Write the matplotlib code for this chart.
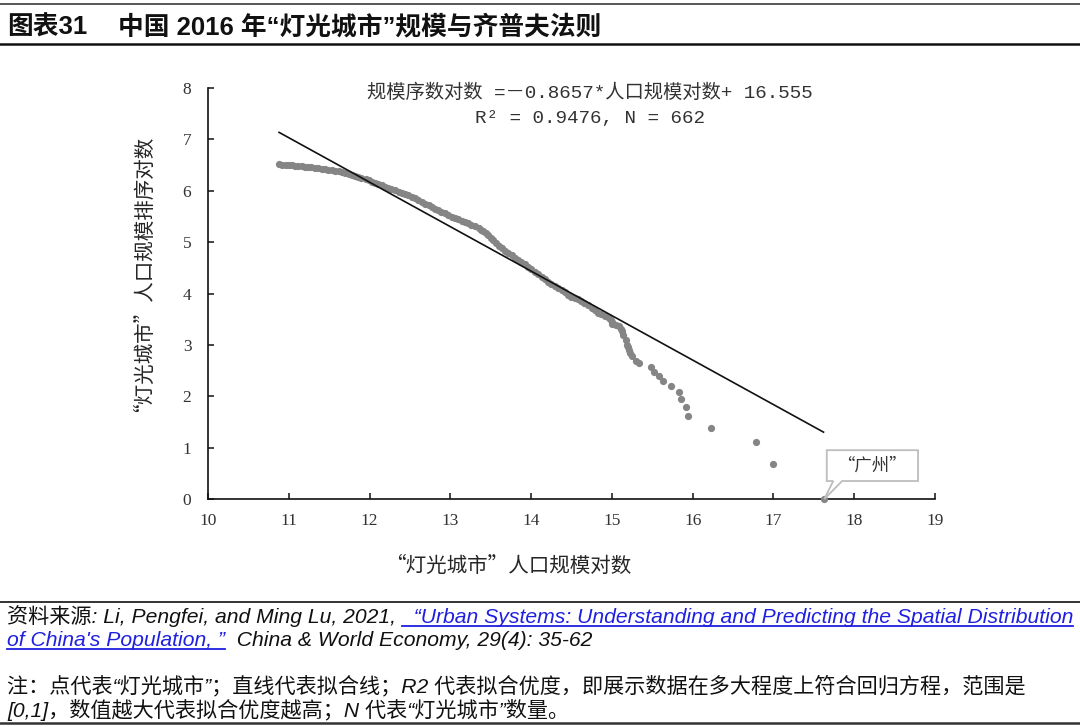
import matplotlib
matplotlib.use("Agg")
import matplotlib.pyplot as plt
from matplotlib.lines import Line2D
from matplotlib.patches import Polygon

W, H = 1080, 727
CJK = "Noto Sans CJK SC"

# log city size vs log rank
x_pts = [10.88, 10.92, 10.96, 11.00, 11.04, 11.08, 11.12, 11.16, 11.20, 11.24,
         11.28, 11.32, 11.36, 11.41, 11.45, 11.49, 11.53, 11.57, 11.62, 11.66,
         11.70, 11.74, 11.78, 11.82, 11.86, 11.90, 11.95, 11.99, 12.03, 12.07,
         12.11, 12.15, 12.19, 12.23, 12.27, 12.31, 12.36, 12.40, 12.44, 12.48,
         12.52, 12.56, 12.60, 12.65, 12.69, 12.73, 12.77, 12.81, 12.85, 12.89,
         12.93, 12.97, 13.02, 13.06, 13.10, 13.14, 13.18, 13.22, 13.26, 13.30,
         13.35, 13.38, 13.41, 13.44, 13.47, 13.50, 13.53, 13.56, 13.60, 13.64,
         13.68, 13.72, 13.76, 13.80, 13.84, 13.88, 13.92, 13.96, 14.00, 14.05,
         14.09, 14.13, 14.17, 14.21, 14.25, 14.29, 14.33, 14.38, 14.42, 14.46,
         14.50, 14.54, 14.58, 14.62, 14.66, 14.70, 14.75, 14.79, 14.83, 14.87,
         14.92, 14.96, 14.99, 15.00, 15.00, 15.05, 15.09, 15.11, 15.12, 15.14,
         15.17, 15.19, 15.20, 15.21, 15.23, 15.25, 15.30, 15.33, 15.48, 15.52,
         15.58, 15.63, 15.73, 15.83, 15.85, 15.92, 15.94, 16.23, 16.79, 16.99,
         17.63]
y_pts = [6.52, 6.51, 6.51, 6.50, 6.50, 6.49, 6.49, 6.48, 6.47, 6.46,
         6.46, 6.45, 6.44, 6.43, 6.42, 6.41, 6.40, 6.39, 6.38, 6.36,
         6.34, 6.32, 6.30, 6.28, 6.26, 6.24, 6.22, 6.20, 6.18, 6.16,
         6.14, 6.11, 6.08, 6.05, 6.03, 6.01, 5.98, 5.96, 5.93, 5.91,
         5.88, 5.85, 5.82, 5.78, 5.75, 5.72, 5.69, 5.65, 5.62, 5.59,
         5.56, 5.53, 5.49, 5.47, 5.45, 5.42, 5.40, 5.37, 5.34, 5.31,
         5.27, 5.24, 5.21, 5.18, 5.14, 5.09, 5.04, 4.99, 4.93, 4.88,
         4.83, 4.78, 4.74, 4.70, 4.66, 4.62, 4.57, 4.52, 4.47, 4.42,
         4.37, 4.32, 4.28, 4.23, 4.19, 4.15, 4.11, 4.07, 4.02, 3.97,
         3.94, 3.92, 3.89, 3.86, 3.82, 3.78, 3.72, 3.68, 3.63, 3.61,
         3.57, 3.52, 3.48, 3.44, 3.40, 3.38, 3.37, 3.31, 3.27, 3.19,
         3.09, 3.00, 2.95, 2.90, 2.85, 2.79, 2.69, 2.64, 2.57, 2.48,
         2.39, 2.30, 2.19, 2.08, 1.95, 1.79, 1.61, 1.38, 1.10, 0.69,
         0.00]

slope, intercept = -0.8657, 16.555
fit_x = [10.88, 17.62]
fit_y = [intercept + slope * v for v in fit_x]

x_ticks = list(range(10, 20))
y_ticks = list(range(0, 9))

fig = plt.figure(figsize=(W / 100, H / 100), dpi=100)
fig.patch.set_facecolor("white")

def fx(px):
    return px / W

def fy(py):
    return 1 - py / H

def hline(py, lw, color, x0=0, x1=W):
    fig.add_artist(Line2D([fx(x0), fx(x1)], [fy(py), fy(py)], transform=fig.transFigure,
                          lw=lw, color=color))

# header
hline(4, 1.4, "#555555")
hline(44, 1.8, "#111111")
title_font = dict(family=["Liberation Sans", CJK], weight="bold", fontsize=18.5, color="#111111")
fig.text(fx(7), fy(27), "图表31", va="center", ha="left", **title_font)
fig.text(fx(118), fy(27), "中国 2016 年“灯光城市”规模与齐普夫法则", va="center", ha="left", **title_font)

# chart
ax = fig.add_axes([fx(208), fy(499), (935 - 208) / W, (499 - 88) / H])
ax.plot(x_pts, y_pts, "o", color="#858585", ms=5.2, mec="none", clip_on=False, zorder=3)
ax.plot(fit_x, fit_y, color="#111111", lw=1.2, zorder=4)
ax.set_xlim(10, 19)
ax.set_ylim(0, 8)
ax.set_xticks(x_ticks)
ax.set_yticks(y_ticks)
for s in ("top", "right"):
    ax.spines[s].set_visible(False)
for s in ("left", "bottom"):
    ax.spines[s].set_linewidth(1.2)
    ax.spines[s].set_color("#111111")
ax.tick_params(direction="in", length=4, width=1.1, color="#111111",
               labelsize=12.5, labelcolor="#333333")
ax.tick_params(axis="y", pad=12)
ax.tick_params(axis="x", pad=10)
for lab in ax.get_xticklabels() + ax.get_yticklabels():
    lab.set_family("Liberation Serif")

eq_font = dict(family=["Liberation Mono", CJK], fontsize=13.9, color="#333333", ha="center", va="center")
fig.text(fx(590), fy(93), "规模序数对数 =－0.8657*人口规模对数+ 16.555", **eq_font)
fig.text(fx(590), fy(119), "R² = 0.9476, N = 662", **eq_font)

lab_font = dict(family=[CJK], fontsize=14.8, color="#262626")
fig.text(fx(133), fy(268), "“灯光城市”人口规模排序对数", rotation=90, ha="center", va="center", **lab_font)
fig.text(fx(508), fy(566), "“灯光城市”人口规模对数", ha="center", va="center", **lab_font)

# callout for Guangzhou
box = [(17.66, 0.95), (18.79, 0.95), (18.79, 0.35), (17.85, 0.35), (17.63, 0.0),
       (17.74, 0.35), (17.66, 0.35)]
ax.add_patch(Polygon(box, closed=True, fc="white", ec="#bdbdbd", lw=1.3, clip_on=False, zorder=5))
ax.text(18.225, 0.65, "“广州”", ha="center", va="center", family=[CJK], fontsize=12.5,
        color="#333333", zorder=6)

# footer
hline(602, 1.4, "#333333")
hline(723, 1.8, "#333333")
foot = dict(family=["Liberation Sans", CJK], style="italic", fontsize=15.2, va="baseline", ha="left")
renderer = fig.canvas.get_renderer()

def run(x_px, base_py, parts):
    for s, col, ul in parts:
        t = fig.text(fx(x_px), fy(base_py), s, color=col, **foot)
        bb = t.get_window_extent(renderer)
        if ul:
            fig.add_artist(Line2D([bb.x0 / W, bb.x1 / W], [fy(base_py + 3)] * 2,
                                  transform=fig.transFigure, lw=1.3, color=col))
        x_px = bb.x1
    return x_px

blue = "#1f1fe0"
run(7, 623, [("资料来源: Li, Pengfei, and Ming Lu, 2021, ", "#111111", False),
             ("  “Urban Systems: Understanding and Predicting the Spatial Distribution", blue, True)])
run(7, 646, [("of China's Population, ”", blue, True),
             ("  China & World Economy, 29(4): 35-62", "#111111", False)])
run(7, 692, [("注：点代表“灯光城市”；直线代表拟合线；R2 代表拟合优度，即展示数据在多大程度上符合回归方程，范围是",
              "#111111", False)])
run(7, 717, [("[0,1]，数值越大代表拟合优度越高；N 代表“灯光城市”数量。", "#111111", False)])

fig.savefig("out.png", dpi=100, facecolor="white")
